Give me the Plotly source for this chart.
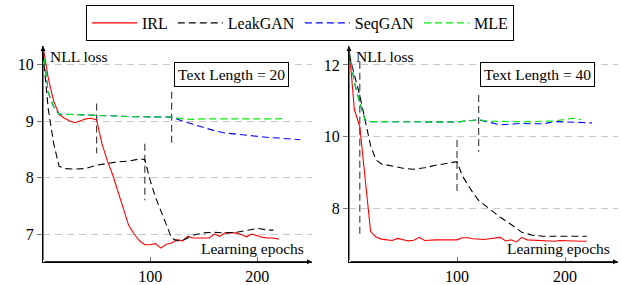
import plotly.graph_objects as go

# ---------------- data: Text Length = 20 ----------------
irl20_x = [0, 5, 10, 15, 20, 25, 30, 35, 40, 45, 50, 55, 60, 65, 70, 75, 80, 85, 90, 95,
           100, 105, 110, 115, 120, 125, 130, 135, 140, 145, 150, 155, 160, 165, 170, 175,
           180, 185, 190, 195, 200, 205, 210, 215, 220]
irl20_y = [10.33, 9.75, 9.35, 9.12, 9.05, 9.0, 8.97, 9.0, 9.04, 9.05, 9.02, 8.6, 8.3, 8.05,
           7.75, 7.45, 7.15, 7.0, 6.88, 6.81, 6.81, 6.83, 6.75, 6.82, 6.84, 6.9, 6.88, 6.96,
           6.93, 6.93, 6.93, 6.93, 7.0, 6.96, 7.02, 7.02, 7.02, 6.99, 6.95, 7.0, 6.97, 6.94,
           6.93, 6.93, 6.91]

leak20_x = [0, 5, 10, 15, 20, 30, 40, 50, 60, 70, 80, 90, 95, 100, 105, 110, 115, 120, 125,
            130, 140, 150, 160, 170, 180, 190, 200, 210, 215]
leak20_y = [10.2, 9.2, 8.6, 8.2, 8.16, 8.15, 8.16, 8.22, 8.25, 8.28, 8.29, 8.33, 8.32, 7.95,
            7.65, 7.4, 7.15, 6.93, 6.88, 6.88, 6.98, 7.02, 7.03, 7.02, 7.03, 7.07, 7.1, 7.07,
            7.07]

mle20_x = [0, 5, 10, 15, 20, 30, 40, 50, 60, 70, 80, 90, 100, 110, 120, 130, 140, 150, 160,
           170, 180, 190, 200, 210, 220, 225]
mle20_y = [10.3, 9.5, 9.25, 9.12, 9.12, 9.12, 9.11, 9.1, 9.1, 9.09, 9.08, 9.08, 9.08, 9.07,
           9.07, 9.04, 9.03, 9.04, 9.04, 9.03, 9.03, 9.03, 9.03, 9.03, 9.04, 9.05]

seq20_x = [0, 5, 10, 15, 20, 30, 40, 50, 60, 70, 80, 90, 100, 110, 120, 130, 140, 150, 160,
           170, 180, 190, 200, 210, 220, 230, 240]
seq20_y = [10.3, 9.5, 9.25, 9.12, 9.12, 9.12, 9.11, 9.1, 9.1, 9.09, 9.08, 9.08, 9.08, 9.07,
           9.07, 9.0, 8.94, 8.88, 8.83, 8.79, 8.77, 8.74, 8.72, 8.71, 8.7, 8.69, 8.67]

# vertical markers (x, y_top, y_bottom)
vmark20_x = [50, 95, 120]
vmark20_top = [9.31, 8.6, 9.52]
vmark20_bot = [8.43, 7.6, 8.6]

# ---------------- data: Text Length = 40 ----------------
irl40_x = [0, 5, 10, 15, 20, 25, 30, 35, 40, 45, 50, 55, 60, 65, 70, 75, 80, 85, 90, 95,
           100, 105, 110, 115, 120, 125, 130, 135, 140, 145, 150, 155, 160, 165, 170, 175,
           180, 185, 190, 195, 200, 205, 210, 215, 220]
irl40_y = [12.5, 10.75, 10.28, 8.9, 7.35, 7.2, 7.14, 7.12, 7.1, 7.16, 7.12, 7.09, 7.11, 7.19,
           7.1, 7.12, 7.12, 7.12, 7.12, 7.12, 7.12, 7.18, 7.18, 7.15, 7.13, 7.13, 7.15, 7.16,
           7.19, 7.09, 7.12, 7.06, 7.19, 7.12, 7.11, 7.09, 7.1, 7.09, 7.08, 7.1, 7.09, 7.09,
           7.08, 7.08, 7.08]

leak40_x = [0, 5, 10, 15, 20, 25, 30, 40, 50, 60, 70, 80, 90, 100, 105, 110, 115, 120, 130,
            140, 150, 160, 170, 180, 190, 200, 210, 220]
leak40_y = [12.3, 11.7, 11.15, 10.45, 9.75, 9.35, 9.24, 9.18, 9.12, 9.09, 9.13, 9.2, 9.25,
            9.3, 8.9, 8.65, 8.42, 8.22, 7.98, 7.75, 7.55, 7.33, 7.25, 7.22, 7.22, 7.22, 7.22,
            7.22]

mle40_x = [0, 5, 10, 15, 20, 30, 40, 50, 60, 70, 80, 90, 100, 110, 120, 130, 140, 150, 160,
           170, 180, 190, 200, 210, 215]
mle40_y = [12.4, 11.5, 10.95, 10.45, 10.42, 10.42, 10.41, 10.41, 10.41, 10.42, 10.42, 10.43,
           10.41, 10.44, 10.47, 10.43, 10.42, 10.42, 10.42, 10.42, 10.43, 10.44, 10.48, 10.52,
           10.47]

seq40_x = [0, 5, 10, 15, 20, 30, 40, 50, 60, 70, 80, 90, 100, 110, 120, 130, 140, 150, 160,
           170, 180, 190, 200, 210, 220, 225]
seq40_y = [12.4, 11.5, 10.95, 10.45, 10.42, 10.42, 10.41, 10.41, 10.41, 10.42, 10.42, 10.43,
           10.41, 10.44, 10.47, 10.4, 10.33, 10.35, 10.37, 10.36, 10.36, 10.42, 10.42, 10.4,
           10.39, 10.38]

vmark40_x = [10, 100, 120]
vmark40_top = [12.09, 9.91, 11.16]
vmark40_bot = [7.2, 8.37, 9.58]

names = ["IRL", "LeakGAN", "SeqGAN", "MLE"]
colors = ["#ff0000", "#000000", "#0000ff", "#00ee00"]
panel_titles = ["Text Length = 20", "Text Length = 40"]
y_ticks20 = [7, 8, 9, 10]
y_ticks40 = [8, 10, 12]
x_ticks = [100, 200]

FONT = "Liberation Serif"
DASH = "7px,4px"

fig = go.Figure()

panels = [
    ("x", "y", irl20_x, irl20_y, leak20_x, leak20_y, seq20_x, seq20_y, mle20_x, mle20_y,
     vmark20_x, vmark20_top, vmark20_bot),
    ("x2", "y2", irl40_x, irl40_y, leak40_x, leak40_y, seq40_x, seq40_y, mle40_x, mle40_y,
     vmark40_x, vmark40_top, vmark40_bot),
]

for i, (xa, ya, ix, iy, lx, ly, sx, sy, mx, my, vx, vt, vb) in enumerate(panels):
    for k in range(len(vx)):
        fig.add_trace(go.Scatter(x=[vx[k], vx[k]], y=[vt[k], vb[k]], mode="lines",
                                 line=dict(color="#444444", width=1.2, dash=DASH),
                                 showlegend=False, hoverinfo="skip", xaxis=xa, yaxis=ya))
    series = [(ix, iy, "solid"), (lx, ly, DASH), (sx, sy, DASH), (mx, my, DASH)]
    for j, (sxv, syv, dash) in enumerate(series):
        fig.add_trace(go.Scatter(x=sxv, y=syv, mode="lines", name=names[j],
                                 line=dict(color=colors[j], width=1.1, dash=dash),
                                 showlegend=(i == 0), legendrank=j + 1,
                                 xaxis=xa, yaxis=ya))

axis_common = dict(showline=True, linecolor="black", linewidth=1, zeroline=False,
                   ticklen=5, tickcolor="#777777", automargin=False,
                   tickfont=dict(family=FONT, size=16, color="black"))

ytop = 1 - 46 / 285
ybot = 1 - 261.7 / 285

fig.update_layout(
    width=621, height=285,
    margin=dict(l=0, r=0, t=0, b=0, autoexpand=False),
    plot_bgcolor="white", paper_bgcolor="white",
    font=dict(family=FONT, size=15.5, color="black"),
    showlegend=True,
    legend=dict(orientation="h", x=86 / 621, xanchor="left", y=1 - 5 / 285, yanchor="top",
                bordercolor="black", borderwidth=1, bgcolor="white",
                itemwidth=45,
                font=dict(family=FONT, size=16), traceorder="normal"),
    xaxis=dict(domain=[43 / 621, 312 / 621], range=[0, 251], tickvals=x_ticks,
               showgrid=False, anchor="y", ticks="inside", **axis_common),
    yaxis=dict(domain=[ybot, ytop], range=[6.51, 10.33], tickvals=y_ticks20,
               showgrid=True, gridcolor="#c8c8c8", griddash="7px,5px", gridwidth=1,
               anchor="x", ticks="outside", **axis_common),
    xaxis2=dict(domain=[349 / 621, 618 / 621], range=[0, 249], tickvals=x_ticks,
                showgrid=False, anchor="y2", ticks="inside", **axis_common),
    yaxis2=dict(domain=[ybot, ytop], range=[6.51, 12.53], tickvals=y_ticks40,
                showgrid=True, gridcolor="#c8c8c8", griddash="7px,5px", gridwidth=1,
                anchor="x2", ticks="outside", **axis_common),
)

for i, (xa, ya) in enumerate([("x", "y"), ("x2", "y2")]):
    xd, yd = xa + " domain", ya + " domain"
    fig.add_annotation(xref=xd, yref=yd, x=0, y=1, axref=xd, ayref=yd, ax=0, ay=0,
                       showarrow=True, arrowhead=2, arrowsize=1, arrowwidth=1,
                       arrowcolor="black", text="")
    fig.add_annotation(xref=xd, yref=yd, x=1, y=0, axref=xd, ayref=yd, ax=0, ay=0,
                       showarrow=True, arrowhead=2, arrowsize=1, arrowwidth=1,
                       arrowcolor="black", text="")
    fig.add_annotation(xref=xd, yref=yd, x=0.02, y=0.95, xanchor="left", yanchor="middle",
                       text="NLL loss", showarrow=False)
    fig.add_annotation(xref=xd, yref=yd, x=0.977, y=0.06, xanchor="right", yanchor="middle",
                       text="Learning epochs", showarrow=False)
    fig.add_annotation(xref=xd, yref=yd, x=0.70, y=0.87, xanchor="center", yanchor="middle",
                       text=panel_titles[i], showarrow=False,
                       bordercolor="black", borderwidth=1, borderpad=3, bgcolor="white")

fig.write_html("out.html", config={"displayModeBar": False},
               post_script="document.body.style.margin='0';document.body.style.overflow='hidden';")
